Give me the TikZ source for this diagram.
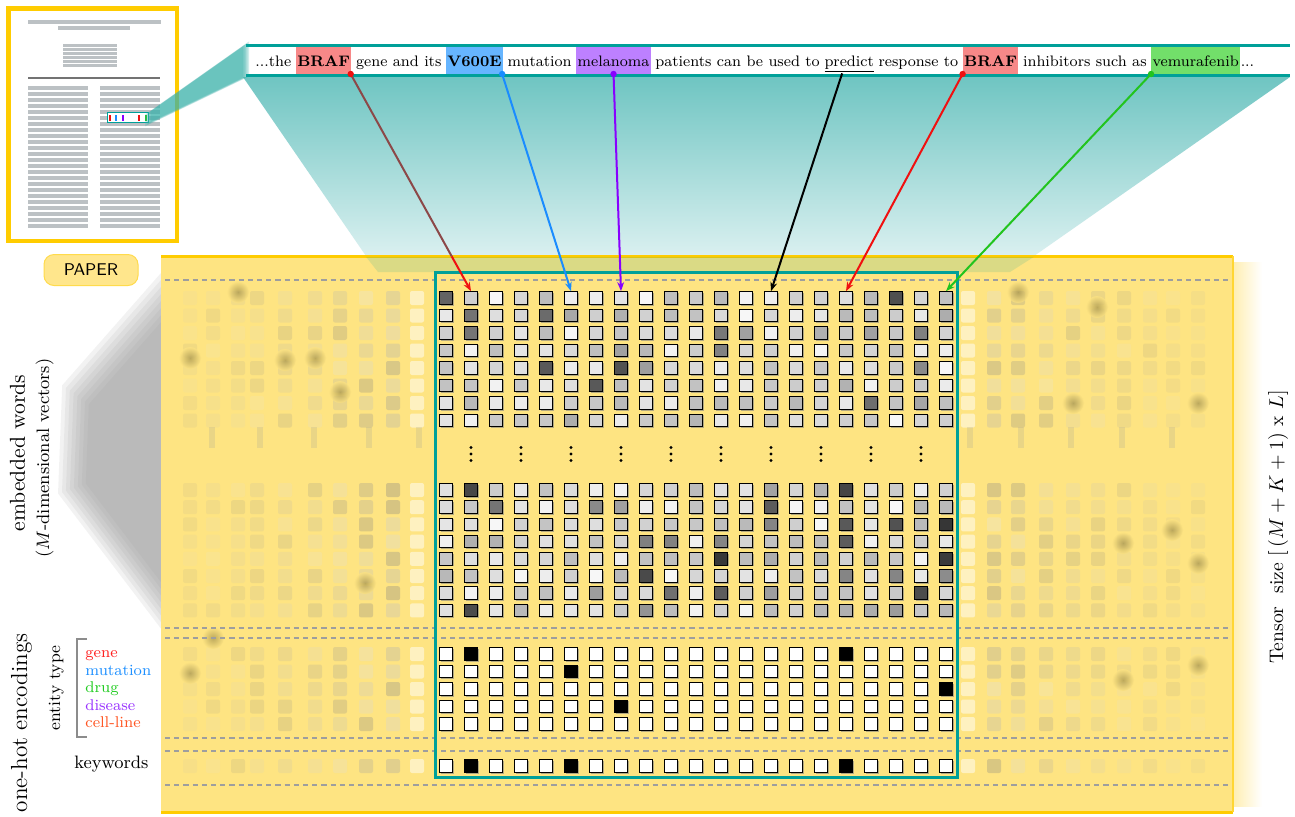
\documentclass[tikz,border=0pt]{standalone}
\usepackage{tikz}
\usetikzlibrary{positioning, arrows.meta, calc, shadows}
\definecolor{tealline}{HTML}{00A099}
\definecolor{beamteal}{HTML}{3AB1AB}
\definecolor{traptop}{HTML}{6FC5C2}
\definecolor{trapbot}{HTML}{DAF0F0}
\definecolor{paperyellow}{HTML}{FFCC00}
\definecolor{tensorfill}{HTML}{FEE482}
\definecolor{badgefill}{HTML}{FFE68C}
\definecolor{papergray}{HTML}{BCC1C4}
\definecolor{hlred}{HTML}{F78888}
\definecolor{hlblue}{HTML}{66B5FF}
\definecolor{hlpurple}{HTML}{BD80FF}
\definecolor{hlgreen}{HTML}{72DF6A}
\definecolor{argene}{HTML}{F01010}
\definecolor{arbrown}{HTML}{8C4848}
\definecolor{armut}{HTML}{1A8CFF}
\definecolor{ardis}{HTML}{8800FF}
\definecolor{ardrug}{HTML}{22C41E}
\definecolor{labgene}{HTML}{FF2020}
\definecolor{labmut}{HTML}{1E90FF}
\definecolor{labdrug}{HTML}{22CC22}
\definecolor{labdis}{HTML}{9933FF}
\definecolor{labcell}{HTML}{FF5522}
\definecolor{blobc}{HTML}{A89650}

\newcommand{\sentfont}{\fontsize{7.6}{9.2}\selectfont}
% faint, out-of-focus column of the tensor
\newcommand{\ghostcol}[3]{%
  \foreach \yy in {298,315.5,333,350.5,368,385.5,403,420.5,490,507.2,524.4,541.6,558.8,576,593.2,610.4,654,671.5,689,706.5,724,766}{%
    \pgfmathtruncatemacro\gg{10+40*rnd}%
    \fill[#3!\gg!white, opacity=#2, rounded corners=1pt] ({#1-7},{\yy-7}) rectangle ({#1+7},{\yy+7});
  }}

\begin{document}
\begin{tikzpicture}[x=0.5pt, y=-0.5pt, node distance=2pt,
    word/.style={inner sep=0pt, font=\sentfont},
    hl/.style={word, fill=#1, inner xsep=.6pt, text height=9.3pt, text depth=3.8pt},
    cell/.style={draw=black, line width=.55pt, minimum size=6.3pt, inner sep=0pt,
      drop shadow={shadow xshift=.6pt, shadow yshift=-.6pt, opacity=.6}},
    sepline/.style={black!38, line width=.75pt, dash pattern=on 2.6pt off 2pt},
    link/.style={line width=1pt, -{Stealth[length=4.5pt, width=3.4pt]}},
    tag/.style={anchor=base west, inner sep=0pt, font=\fontsize{7.8}{9}\selectfont},
    sidelabel/.style={rotate=90, inner sep=0pt},
    badge/.style={draw=paperyellow!70, fill=badgefill, line width=.5pt, rounded corners=5pt,
      minimum width=47pt, minimum height=15.5pt, font=\sffamily\fontsize{8.5}{10}\selectfont}]
  \pgfmathsetseed{42}
  \useasboundingbox (0,0) rectangle (1295,816);
  \fill[white] (0,0) rectangle (1295,816);

  % zoom cone below the sentence
  \shade[top color=traptop, bottom color=trapbot] (243,77) -- (1290,77) -- (1034,256) -- (366,256) -- cycle;

  % paper thumbnail
  \node[draw=paperyellow, line width=2.3pt, fill=white, minimum width=84.4pt, minimum height=116.4pt, inner sep=0pt] (thumb) at (92.6,124.6) {};
  \draw[papergray, line width=2pt] (28,22) -- (161,22) (58,27.5) -- (130,27.5);
  \foreach \y in {45.3,49.3,...,66}
    \draw[papergray, line width=1.4pt] (63,\y) -- (117,\y);
  \draw[black!55, line width=1pt] (28,78) -- (160,78);
  \foreach \y in {88,94,...,227}{
    \draw[papergray, line width=2pt] (28,\y) -- (88,\y);
    \draw[papergray, line width=2pt] (100,\y) -- (160,\y);
  }
  \node[draw=tealline, line width=.5pt, fill=white, minimum width=20.5pt, minimum height=4.6pt, inner sep=0pt] (minibox) at (127.5,117.5) {};
  \foreach \x/\col in {110/argene, 116/armut, 123/ardis, 138.7/argene, 146/ardrug}
    \fill[\col] ({\x-1},115) rectangle ({\x+1},120.5);

  % beam from the thumbnail to the sentence
  \foreach \s in {1.06,1.03,1,.97,.94}
    \fill[beamteal, opacity=.24, scale around={\s:(196,86)}] (148,113) -- (246,44) -- (246,77) -- (148,124) -- cycle;

  % the sentence
  \draw[tealline, line width=1.5pt] (246,45.5) -- (1290,45.5) (246,75.8) -- (1290,75.8);
  \node[word, anchor=base west] (s0) at (255,66) {...the};
  \node[hl=hlred, base right=of s0] (braf) {\textbf{BRAF}};
  \node[word, base right=of braf] (s1) {gene and its};
  \node[hl=hlblue, base right=of s1] (vsix) {\textbf{V600E}};
  \node[word, base right=of vsix] (s2) {mutation};
  \node[hl=hlpurple, base right=of s2] (mela) {melanoma};
  \node[word, base right=of mela] (s3) {patients can be used to};
  \node[word, base right=of s3] (pred) {\underline{predict}};
  \node[word, base right=of pred] (s4) {response to};
  \node[hl=hlred, base right=of s4] (braftwo) {\textbf{BRAF}};
  \node[word, base right=of braftwo] (s5) {inhibitors such as};
  \node[hl=hlgreen, base right=of s5] (vemu) {vemurafenib};
  \node[word, base right=0pt of vemu] (s6) {...};

  % soft shadow on the left of the tensor
  \foreach \s in {1.04,1,.96,.92,.88,.84,.8,.76}
    \fill[black!40, opacity=.12, scale around={\s:(161,456)}] (161,280) -- (66,388) -- (62,492) -- (161,622) -- cycle;

  % tensor
  \fill[tensorfill] (161,256) rectangle (1233,812);
  \shade[left color=tensorfill!60, right color=white] (1234,262) rectangle (1262,806);
  \draw[paperyellow, line width=1.5pt] (161,256) -- (1233,256) (161,812) -- (1233,812);
  \draw[paperyellow!80, line width=.8pt] (1233,256) -- (1233,812);
  \fill[tealline, opacity=.14] (366,256.8) -- (1034,256.8) -- (1010,272) -- (378,272) -- cycle;

  \foreach \x/\o in {190/.10, 213/.12, 238/.13, 257/.15, 285/.18, 315/.2, 340/.24, 366/.28, 393/.33,
      994/.3, 1018/.26, 1046/.22, 1073/.2, 1098/.17, 1124/.15, 1150/.13, 1173/.11, 1198/.1}
    {\ghostcol{\x}{\o}{black}}
  \ghostcol{417}{.5}{white}
  \ghostcol{968}{.5}{white}
  \foreach \x in {212,260,314,369,419,970,1021,1071,1122,1172}
    \fill[black!40, opacity=.2] ({\x-3},427) rectangle ({\x+3},448);
  \foreach \x/\y in {190/358, 315/358, 285/360, 340/392, 213/638, 190/673, 365/583, 238/292,
      1018/292, 1097/307, 1172/530, 1198/563, 1123/680, 1198/665, 1123/543, 1073/403, 1198/403}
    \shade[inner color=blobc, outer color=tensorfill, opacity=.75] (\x,\y) circle (5.5pt);

  \foreach \y in {280,628,638,738,751,785}
    \draw[sepline] (165,\y) -- (1230,\y);
  \draw[tealline, line width=1.5pt] (435,272) rectangle (957,777);

  % embedded words
  \foreach \r in {1,...,8}
    \foreach \c in {1,...,21}{
      \pgfmathtruncatemacro\g{3+25*rnd+62*rnd^9}
      \node[cell, fill=black!\g] (w-\r-\c) at ({421+25*\c},{280.5+17.5*\r}) {};
    }
  \foreach \c in {2,4,...,20}
    \foreach \dy in {-6.5,0,6.5}
      \fill ({421+25*\c},{454+\dy}) circle (.85pt);
  \foreach \r in {1,...,8}
    \foreach \c in {1,...,21}{
      \pgfmathtruncatemacro\g{3+25*rnd+62*rnd^9}
      \node[cell, fill=black!\g] (v-\r-\c) at ({421+25*\c},{472.8+17.2*\r}) {};
    }

  % one-hot encodings
  \foreach \r in {1,...,5}
    \foreach \c in {1,...,21}{
      \pgfmathtruncatemacro\g{((\r==1)&&((\c==2)||(\c==17)))||((\r==2)&&(\c==6))||((\r==3)&&(\c==21))||((\r==4)&&(\c==8)) ? 100 : 0}
      \node[cell, fill=black!\g] (h-\r-\c) at ({421+25*\c},{636.5+17.5*\r}) {};
    }
  \foreach \c in {1,...,21}{
    \pgfmathtruncatemacro\g{(\c==2)||(\c==6)||(\c==17) ? 100 : 0}
    \node[cell, fill=black!\g] (k-\c) at ({421+25*\c},766) {};
  }

  % words to columns
  \coordinate (d1) at ($(braf.south east)+(-1,0)$);
  \draw[arbrown, line width=1pt] (d1) -- ($(d1)!.84!(w-1-2.north)$) coordinate (m1);
  \draw[link, argene] (m1) -- (w-1-2.north);
  \fill[argene] (d1) circle (1.6pt);
  \coordinate (d2) at ($(vsix.south east)+(-1,0)$);
  \draw[link, armut] (d2) -- (w-1-6.north);
  \fill[armut] (d2) circle (1.6pt);
  \draw[link, ardis] (mela.south) -- (w-1-8.north);
  \fill[ardis] (mela.south) circle (1.6pt);
  \draw[link, black] ($(pred.south west)!.36!(pred.south east)$) -- (w-1-14.north);
  \draw[link, argene] (braftwo.south west) -- (w-1-17.north);
  \fill[argene] (braftwo.south west) circle (1.6pt);
  \draw[link, ardrug] (vemu.south west) -- (w-1-21.north);
  \fill[ardrug] (vemu.south west) circle (1.6pt);

  % labels
  \node[badge] (paper) at (91,270) {PAPER};
  \node[sidelabel, anchor=base, font=\fontsize{10.8}{13}\selectfont] (embw) at (25,453) {embedded words};
  \node[sidelabel, anchor=base, font=\fontsize{9}{11}\selectfont] (mdim) at (49,458) {(\(M\)-dimensional vectors)};
  \node[sidelabel, anchor=base east, font=\fontsize{11.6}{14}\selectfont] (onehot) at (27,633) {one-hot encodings};
  \node[sidelabel, anchor=base, font=\fontsize{8.6}{10}\selectfont] (etype) at (60,688) {entity type};
  \draw[black!45, line width=.6pt] (87,639) -- (77,639) -- (77,737) -- (87,737);
  \node[tag, text=labgene] (lgene) at (85,657.5) {gene};
  \node[tag, text=labmut] (lmut) at (85,675) {mutation};
  \node[tag, text=labdrug] (ldrug) at (85,692.5) {drug};
  \node[tag, text=labdis] (ldis) at (85,710) {disease};
  \node[tag, text=labcell] (lcell) at (85,727.5) {cell-line};
  \node[anchor=base west, inner sep=0pt, font=\fontsize{9}{11}\selectfont] (kw) at (74,768) {keywords};
  \node[sidelabel, anchor=base, font=\fontsize{9.8}{12}\selectfont] (tsize) at (1283,527) {Tensor~ size \([\,(M + K + 1)\) x \(L]\)};
\end{tikzpicture}
\end{document}
